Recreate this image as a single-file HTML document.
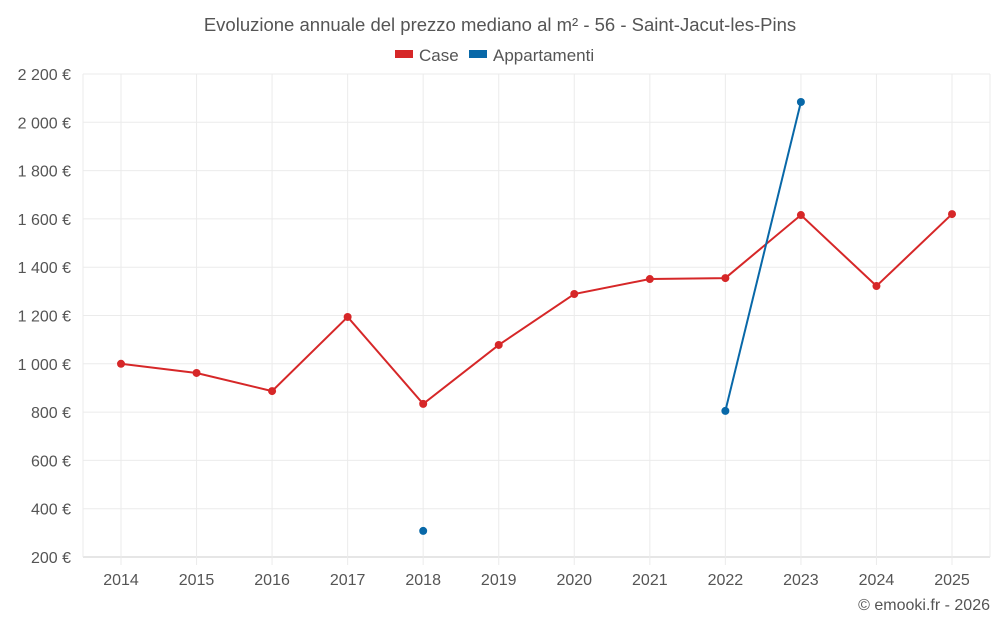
<!DOCTYPE html>
<html><head><meta charset="utf-8"><style>
body{margin:0;background:#fff;font-family:"Liberation Sans",sans-serif;}
svg text{font-family:"Liberation Sans",sans-serif;fill:#555;}
</style></head><body>
<svg id="c" width="1000" height="625">
<text x="500" y="31" text-anchor="middle" font-size="18.5">Evoluzione annuale del prezzo mediano al m² - 56 - Saint-Jacut-les-Pins</text>
<g>
<g><rect x="395" y="50" width="18" height="8" fill="#d62728"/><text x="419" y="61" font-size="17">Case</text></g>
<g><rect x="469" y="50" width="18" height="8" fill="#0868a8"/><text x="493" y="61" font-size="17">Appartamenti</text></g>
</g>
<g id="grid"></g><g id="marks"></g>
<text x="990" y="610" text-anchor="end" font-size="16">© emooki.fr - 2026</text>
</svg>
<script>
const years=[2014,2015,2016,2017,2018,2019,2020,2021,2022,2023,2024,2025];
const caseVals=[1000,962,887,1194,834,1078,1289,1351,1355,1616,1322,1620];
const apptVals=[null,null,null,null,308,null,null,null,805,2084,null,null];
const yTicks=[200,400,600,800,1000,1200,1400,1600,1800,2000,2200];
const ns="http://www.w3.org/2000/svg";
const X=i=>121+i*(952-121)/11;
const Y=v=>557-(v-200)*(557-74)/2000;
function mk(t,a,p){const e=document.createElementNS(ns,t);for(const k in a)e.setAttribute(k,a[k]);p.appendChild(e);return e;}
const g=document.getElementById('grid'),m=document.getElementById('marks');
yTicks.forEach(v=>{
 const l=mk('line',{x1:83,x2:990,y1:Y(v),y2:Y(v),stroke:v===200?'#ccc':'#ebebeb'},g);
 
 
 const t=mk('text',{x:71,y:Y(v)+6,'text-anchor':'end','font-size':16},g);
 t.textContent=v.toLocaleString('fr-FR').replace(/\u202f|\u00a0/g,' ')+' €';
 
 
});
[83,990].forEach(x=>{const l=mk('line',{x1:x,x2:x,y1:74,y2:557,stroke:'#ebebeb'},g);
 
 });
years.forEach((y,i)=>{
 const l=mk('line',{x1:X(i),x2:X(i),y1:74,y2:565,stroke:'#ebebeb'},g);
 
 
 const t=mk('text',{x:X(i),y:585,'text-anchor':'middle','font-size':16},g);
 t.textContent=y;
 
 
});
function series(vals,color,name){
 let d='',pen=false;
 vals.forEach((v,i)=>{if(v==null){pen=false;return;}d+=(pen?'L':'M')+X(i)+' '+Y(v);pen=true;});
 const p=mk('path',{d:d,fill:'none',stroke:color,'stroke-width':2},m);
 
 
 vals.forEach((v,i)=>{if(v==null)return;
  const c=mk('circle',{cx:X(i),cy:Y(v),r:4,fill:color},m);
  
  });
}
series(caseVals,'#d62728','case');
series(apptVals,'#0868a8','appartamenti');
</script>
</body></html>
